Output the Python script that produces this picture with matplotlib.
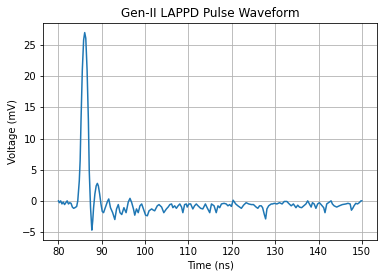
import matplotlib
matplotlib.use("Agg")
import matplotlib.pyplot as plt

time_ns = [
    80.0, 80.2, 80.5, 80.8, 81.1, 81.4, 81.7, 82.0, 82.3, 82.6, 82.9, 83.2, 83.5, 83.8, 84.2, 84.45,
    84.8, 85.0, 85.2, 85.5, 85.8, 86.05, 86.3, 86.6, 86.9, 87.1, 87.4, 87.7, 87.9, 88.1, 88.4, 88.7,
    88.97, 89.2, 89.5, 89.8, 90.1, 90.4, 90.7, 91.0, 91.3, 91.6, 92.0, 92.5, 93.0, 93.4, 93.8, 94.2,
    94.6, 95.1, 95.6, 96.1, 96.5, 96.9, 97.3, 97.6, 98.0, 98.4, 98.8, 99.2, 99.6, 100.1, 100.5, 100.9,
    101.5, 101.9, 102.2, 102.8, 103.2, 103.8, 104.3, 104.9, 105.3, 105.7, 106.1, 106.4, 106.8, 107.2,
    107.6, 108.0, 108.4, 108.7, 109.1, 109.5, 109.7, 110.1, 110.5, 111.0, 111.4, 111.8, 112.2, 112.8,
    113.3, 113.9, 114.3, 114.9, 115.3, 115.9, 116.4, 116.8, 117.2, 117.6, 118.2, 118.7, 119.1, 119.5,
    119.9, 120.3, 120.9, 121.4, 121.8, 122.2, 122.7, 123.3, 123.9, 124.5, 125.0, 125.6, 126.0, 126.4,
    126.8, 127.1, 127.5, 127.8, 128.1, 128.5, 129.1, 129.4, 129.8, 130.4, 131.0, 131.6, 132.1, 132.7,
    133.1, 133.7, 134.2, 134.8, 135.2, 135.6, 136.1, 136.6, 137.1, 137.5, 137.9, 138.3, 138.6, 139.0,
    139.4, 139.8, 140.2, 140.6, 141.2, 141.5, 141.9, 142.3, 142.9, 143.2, 143.6, 144.2, 144.8, 145.5,
    146.3, 146.8, 147.3, 147.6, 147.9, 148.2, 148.6, 149.0, 149.4, 149.8, 150.0,
]

voltage_mv = [
    0.0, -0.3, 0.0, -0.5, -0.2, -0.6, -0.3, 0.0, -0.5, -0.3, -0.4, -1.0, -1.2, -1.1, -0.9, 0.0,
    3.2, 6.5, 12.9, 21.0, 25.8, 27.0, 26.1, 21.0, 12.9, 4.8, -1.1, -4.7, -3.2, -1.1, 1.1, 2.4,
    2.8, 2.4, 1.1, -0.5, -1.7, -1.9, -1.3, -0.7, -0.1, 0.3, -1.1, -1.9, -3.0, -1.3, -0.6, -1.9,
    -2.2, -1.1, -1.9, -0.2, 0.4, -0.3, -1.3, -2.3, -1.3, -1.9, -0.8, -0.5, -1.3, -2.3, -2.4, -1.6,
    -1.3, -1.5, -1.6, -0.8, -0.6, -1.0, -1.9, -1.3, -1.0, -0.6, -0.5, -1.1, -0.8, -1.2,
    -0.8, -0.5, -1.0, -1.9, -0.6, -0.5, -1.0, -0.5, -0.5, -1.3, -0.8, -0.5, -0.8, -1.2,
    -1.3, -0.5, -1.1, -1.9, -0.5, -0.8, -1.9, -0.8, -1.1, -0.5, -0.4, -0.5, -0.8, -0.6,
    -0.9, 0.1, -0.5, -0.8, -1.0, -1.2, -0.7, -0.3, -0.5, -0.6, -0.6, -1.0, -1.2, -0.8,
    -0.8, -1.1, -2.2, -2.9, -1.3, -0.8, -0.5, -0.5, -0.4, -0.5, -0.3, -0.5, -0.1, -0.1,
    -0.4, -0.8, -0.5, -1.1, -0.7, -1.0, -1.1, -0.8, -0.5, 0.0, -0.5, -1.0, -0.3, -0.5,
    -1.2, -0.5, -0.3, -0.6, -1.1, -1.9, -0.5, -0.3, 0.0, -0.5, -0.8, -1.0, -0.8, -0.6,
    -0.5, -0.4, -0.5, -1.5, -1.2, -0.8, -0.4, -0.5, -0.3, 0.0, 0.0,
]

title = "Gen-II LAPPD Pulse Waveform"
xlabel = "Time (ns)"
ylabel = "Voltage (mV)"

fig = plt.figure(figsize=(384 / 72, 278 / 72), dpi=72)
ax = fig.add_axes([0.1128, 0.1367, 0.8690, 0.7816])
ax.plot(time_ns, voltage_mv, color="#1f77b4", linewidth=1.5)
ax.set_title(title, fontsize=12)
ax.set_xlabel(xlabel, fontsize=10)
ax.set_ylabel(ylabel, fontsize=10)
ax.tick_params(labelsize=10)
ax.grid(True)
fig.savefig("out.png", dpi=72)
